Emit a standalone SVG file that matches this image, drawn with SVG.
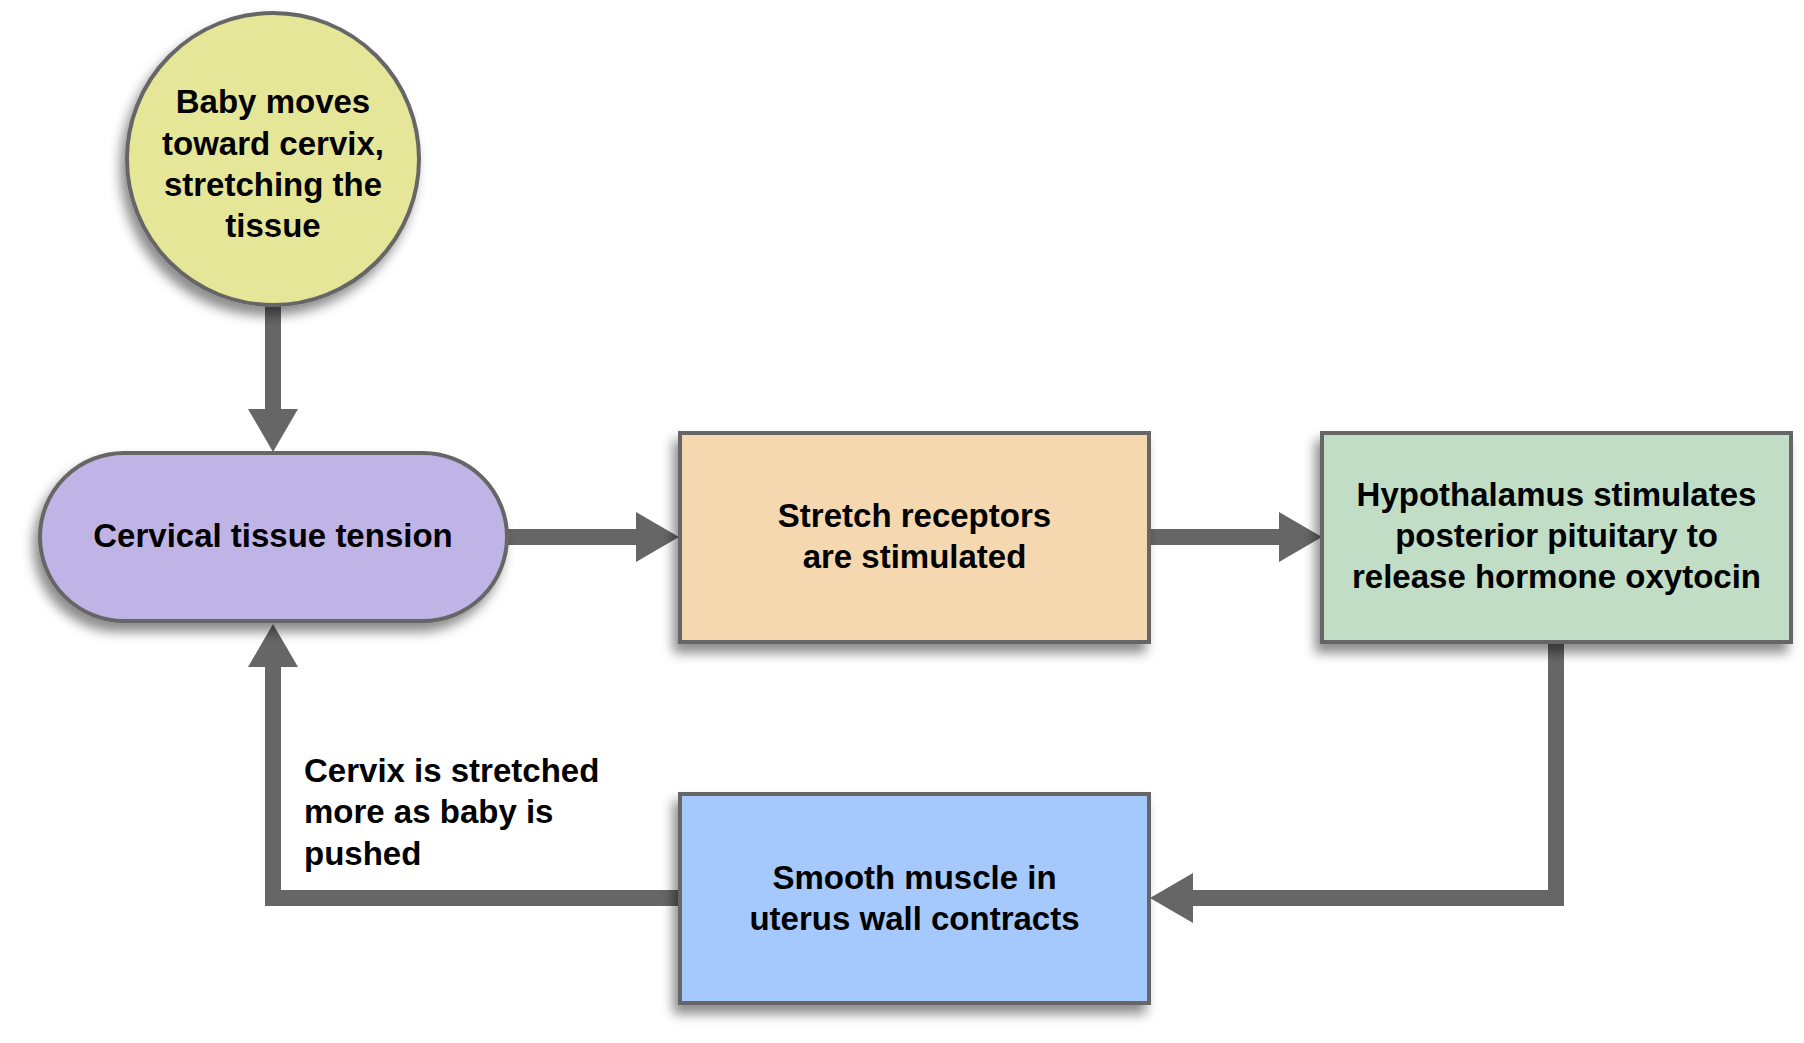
<svg xmlns="http://www.w3.org/2000/svg" width="1804" height="1043" viewBox="0 0 1804 1043">
<defs>
<filter id="sh" x="-20%" y="-20%" width="140%" height="150%">
<feDropShadow dx="-5" dy="9" stdDeviation="6" flood-color="#000" flood-opacity="0.45"/>
</filter>
<marker id="ah" markerUnits="userSpaceOnUse" markerWidth="44" markerHeight="50" refX="0" refY="25" orient="auto">
<path d="M0,0 L43,25 L0,50 Z" fill="#666666"/>
</marker>
</defs>
<style>
.node{stroke:#666666;stroke-width:4;filter:url(#sh)}
.t{font-family:"Liberation Sans",Arial,Helvetica,sans-serif;font-weight:bold;font-size:33px;fill:#000;text-anchor:middle}
.lbl{font-family:"Liberation Sans",Arial,Helvetica,sans-serif;font-weight:bold;font-size:33px;fill:#000}
.c{fill:none;stroke:#666666;stroke-width:16;stroke-linejoin:miter;marker-end:url(#ah)}
</style>
<rect width="1804" height="1043" fill="#ffffff"/>
<g id="connectors">
<path class="c" d="M273,305 L273,409"/>
<path class="c" d="M507,537 L636,537"/>
<path class="c" d="M1149,537 L1279,537"/>
<path class="c" d="M1556,643 L1556,898 L1193,898"/>
<path class="c" d="M680,898 L273,898 L273,667"/>
</g>
<g id="node-baby">
<circle class="node" cx="273" cy="159" r="146" fill="#e6e699"/>
<text class="t" x="273" y="113">Baby moves</text>
<text class="t" x="273" y="155">toward cervix,</text>
<text class="t" x="273" y="196">stretching the</text>
<text class="t" x="273" y="237">tissue</text>
</g>
<g id="node-tension">
<rect class="node" x="40" y="453" width="467" height="168" rx="84" ry="84" fill="#c0b4e6"/>
<text class="t" x="273" y="547">Cervical tissue tension</text>
</g>
<g id="node-receptors">
<rect class="node" x="680" y="433" width="469" height="209" fill="#f5d7b0"/>
<text class="t" x="914.5" y="527">Stretch receptors</text>
<text class="t" x="914.5" y="568">are stimulated</text>
</g>
<g id="node-hypothalamus">
<rect class="node" x="1322" y="433" width="469" height="209" fill="#c1ddc6"/>
<text class="t" x="1556.5" y="506">Hypothalamus stimulates</text>
<text class="t" x="1556.5" y="547">posterior pituitary to</text>
<text class="t" x="1556.5" y="588">release hormone oxytocin</text>
</g>
<g id="node-muscle">
<rect class="node" x="680" y="794" width="469" height="209" fill="#a6c9fd"/>
<text class="t" x="914.5" y="889">Smooth muscle in</text>
<text class="t" x="914.5" y="930">uterus wall contracts</text>
</g>
<g id="label-feedback">
<text class="lbl" x="304" y="782">Cervix is stretched</text>
<text class="lbl" x="304" y="823">more as baby is</text>
<text class="lbl" x="304" y="865">pushed</text>
</g>
</svg>
